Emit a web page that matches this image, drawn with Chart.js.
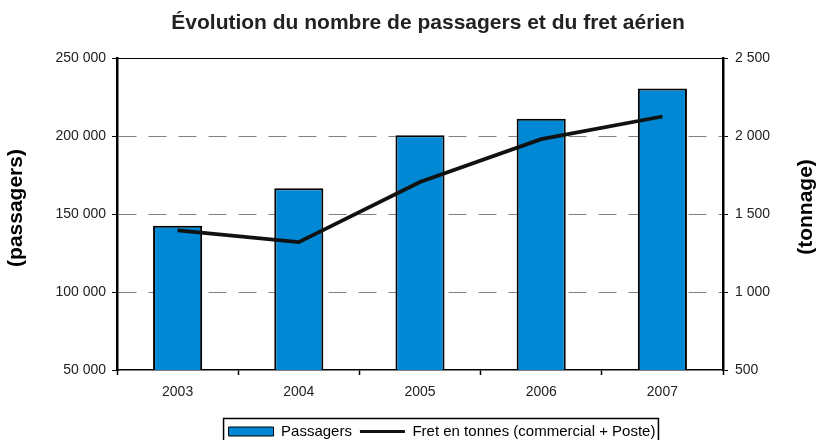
<!DOCTYPE html>
<html lang="fr">
  <head>
    <meta charset="UTF-8" />
    <title>Passagers et fret</title>
    <script src="https://cdn.jsdelivr.net/npm/chart.js"></script>
    <style>
      html,
      body {
        margin: 0;
        padding: 0;
        background: #fff;
      }
      .chart-box {
        width: 817px;
        height: 440px;
      }
    </style>
  </head>
  <body>
    <div class="chart-box">
      <canvas id="myChart"></canvas>
    </div>
    <script>
      const years = ["2003", "2004", "2005", "2006", "2007"];
      const passagers = [142500, 166500, 200500, 211000, 230500]; // passagers
      const fret = [1395, 1320, 1705, 1980, 2125]; // tonnes
      const leftTicks = [50000, 100000, 150000, 200000, 250000];
      const rightTicks = [500, 1000, 1500, 2000, 2500];

      const font = "'Liberation Sans', Arial, sans-serif";
      const fmt = (v) => String(v).replace(/\B(?=(\d{3})+(?!\d))/g, " ");

      // cadre du haut, titres d'axes et bordure de la légende
      const decor = {
        id: "decor",
        afterLayout(chart) {
          // légende un peu plus bas et plus à droite, comme l'original
          const lg = chart.legend;
          lg.left += 14;
          lg.right += 14;
          lg.top += 9;
          lg.bottom += 9;
          (lg.legendHitBoxes || []).forEach((b) => {
            b.left += 14;
          });
        },
        beforeDatasetsDraw(chart) {
          const { ctx, chartArea } = chart;
          ctx.save();
          ctx.strokeStyle = "#000";
          ctx.lineWidth = 1;
          ctx.beginPath();
          ctx.moveTo(chartArea.left, chartArea.top + 0.5);
          ctx.lineTo(chartArea.right, chartArea.top + 0.5);
          ctx.stroke();
          ctx.restore();
        },
        afterDraw(chart) {
          const ctx = chart.ctx;
          const axisTitle = (text, x, y) => {
            ctx.save();
            ctx.fillStyle = "#000";
            ctx.font = "bold 21px " + font;
            ctx.textAlign = "center";
            ctx.textBaseline = "middle";
            ctx.translate(x, y);
            ctx.rotate(-Math.PI / 2);
            ctx.fillText(text, 0, 0);
            ctx.restore();
          };
          axisTitle("(passagers)", 16, 208);
          axisTitle("(tonnage)", 806, 207);

          const boxes = chart.legend.legendHitBoxes;
          if (boxes && boxes.length) {
            const left = Math.min(...boxes.map((b) => b.left)) - 5;
            const right = Math.max(...boxes.map((b) => b.left + b.width)) + 3;
            ctx.save();
            ctx.strokeStyle = "#000";
            ctx.lineWidth = 1.5;
            ctx.strokeRect(left, 418.5, right - left, 40);
            ctx.restore();
          }
        },
      };

      const ctx = document.getElementById("myChart");
      const myChart = new Chart(ctx, {
        data: {
          labels: years,
          datasets: [
            {
              type: "bar",
              label: "Passagers",
              data: passagers,
              backgroundColor: "#0088D4",
              borderColor: "#000",
              borderWidth: 2,
              barPercentage: 0.405,
              categoryPercentage: 1,
              yAxisID: "y",
              order: 2,
            },
            {
              type: "line",
              label: "Fret en tonnes (commercial + Poste)",
              data: fret,
              borderColor: "#111",
              borderWidth: 3.8,
              pointRadius: 0,
              tension: 0,
              yAxisID: "y1",
              order: 1,
            },
          ],
        },
        options: {
          responsive: true,
          maintainAspectRatio: false,
          animation: false,
          layout: { padding: { left: 39, right: 0, top: 0, bottom: 0 } },
          plugins: {
            title: {
              display: true,
              text: "Évolution du nombre de passagers et du fret aérien",
              color: "#222",
              font: { family: font, size: 21, weight: "bold", lineHeight: 1.2 },
              padding: { top: 11, bottom: 21.8 },
            },
            legend: {
              position: "bottom",
              labels: {
                color: "#000",
                font: { family: font, size: 15 },
                usePointStyle: true,
                pointStyleWidth: 45,
                boxHeight: 9,
                padding: 8,
                generateLabels: (chart) =>
                  chart.data.datasets.map((ds, i) => ({
                    text: ds.label,
                    datasetIndex: i,
                    fillStyle: ds.type === "line" ? ds.borderColor : ds.backgroundColor,
                    strokeStyle: ds.borderColor,
                    lineWidth: ds.type === "line" ? 3 : 1,
                    pointStyle: ds.type === "line" ? "line" : "rect",
                    fontColor: "#000",
                    hidden: false,
                  })),
              },
            },
            tooltip: { enabled: false },
          },
          scales: {
            x: {
              offset: true,
              grid: {
                offset: true,
                drawOnChartArea: false,
                tickLength: 5,
                tickColor: "#000",
                tickWidth: 1.5,
              },
              border: { color: "#000", width: 1.5 },
              ticks: { color: "#222", font: { family: font, size: 14 }, padding: 9 },
              afterFit: (s) => {
                s.height = 70 - s.chart.legend.height;
              },
            },
            y: {
              position: "left",
              min: 50000,
              max: 250000,
              afterBuildTicks: (s) => {
                s.ticks = leftTicks.map((v) => ({ value: v }));
              },
              grid: {
                color: (c) =>
                  c.tick && (c.tick.value === 50000 || c.tick.value === 250000)
                    ? "rgba(0,0,0,0)"
                    : "#808080",
                tickColor: "#000",
                tickLength: 5,
                tickBorderDash: [],
              },
              border: { color: "#000", width: 2.5, dash: [18, 12] },
              ticks: {
                color: "#222",
                font: { family: font, size: 14 },
                padding: 6,
                callback: (v) => fmt(v),
              },
              afterFit: (s) => {
                s.width = 78;
              },
            },
            y1: {
              position: "right",
              min: 500,
              max: 2500,
              afterBuildTicks: (s) => {
                s.ticks = rightTicks.map((v) => ({ value: v }));
              },
              grid: {
                drawOnChartArea: false,
                tickColor: "#000",
                tickLength: 5,
              },
              border: { color: "#000", width: 2.5 },
              ticks: {
                color: "#222",
                font: { family: font, size: 14 },
                padding: 7,
                callback: (v) => fmt(v),
              },
              afterFit: (s) => {
                s.width = 94;
              },
            },
          },
        },
        plugins: [decor],
      });
    </script>
  </body>
</html>
